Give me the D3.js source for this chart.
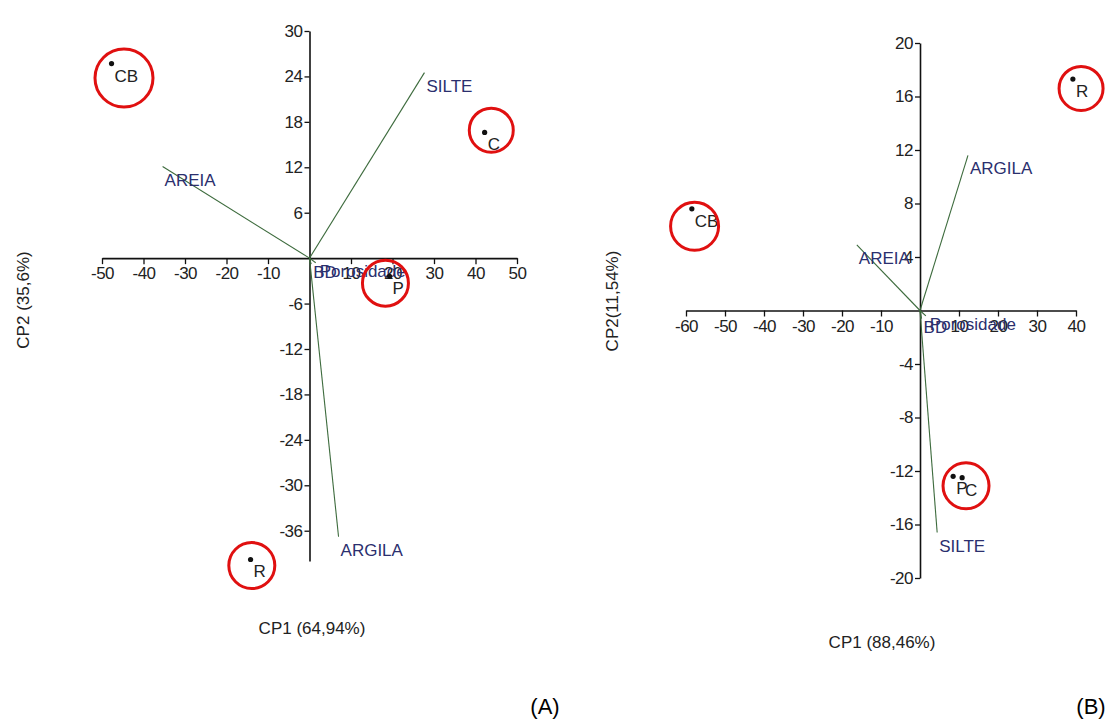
<!DOCTYPE html>
<html>
<head>
<meta charset="utf-8">
<script src="https://cdn.jsdelivr.net/npm/d3@7"></script>
<style>
    body { margin: 0; background: #fff; }
    svg { font-family: "Liberation Sans", Arial, sans-serif; }
</style>
</head>
<body>
<svg id="chart" width="1110" height="720"></svg>
<script>
// Panel A data
// ===================================
const xTicksA = [-50, -40, -30, -20, -10, 0, 10, 20, 30, 40, 50]
const yTicksA = [30, 24, 18, 12, 6, 0, -6, -12, -18, -24, -30, -36]
const pointsA = [
    { name: "CB", x: -47.7, y: 25.7 },
    { name: "C", x: 42.2, y: 16.6 },
    { name: "P", x: 19.3, y: -2.4 },
    { name: "R", x: -14.2, y: -39.8 },
]
const vectorsA = [
    { name: "SILTE", x: 27.7, y: 24.5 },
    { name: "AREIA", x: -35.4, y: 12.1 },
    { name: "ARGILA", x: 7.0, y: -36.8 },
    { name: "BD", x: 0.4, y: -0.8 },
    { name: "Porosidade", x: 1.5, y: -0.6 },
]
const circledA = [
    { x: -44.7, y: 23.8 },
    { x: 43.8, y: 16.9 },
    { x: 18.3, y: -3.3 },
    { x: -13.9, y: -40.6 },
]

// Panel B data
// ===================================
const xTicksB = [-60, -50, -40, -30, -20, -10, 0, 10, 20, 30, 40]
const yTicksB = [20, 16, 12, 8, 4, 0, -4, -8, -12, -16, -20]
const pointsB = [
    { name: "R", x: 39.2, y: 17.3 },
    { name: "CB", x: -58.5, y: 7.6 },
    { name: "P", x: 8.5, y: -12.4 },
    { name: "C", x: 10.8, y: -12.5 },
]
const vectorsB = [
    { name: "ARGILA", x: 12.3, y: 11.6 },
    { name: "AREIA", x: -16.2, y: 4.9 },
    { name: "SILTE", x: 4.4, y: -16.6 },
    { name: "BD", x: 0.4, y: -0.6 },
    { name: "Porosidade", x: 1.5, y: -0.4 },
]
const circledB = [
    { x: 41.3, y: 16.6 },
    { x: -57.8, y: 6.3 },
    { x: 11.8, y: -13.1 },
]

const panels = [
    {
        tag: "(A)", xTitle: "CP1 (64,94%)", yTitle: "CP2 (35,6%)",
        xDomain: [-50, 50], yDomain: [-40, 30],
        xRange: [102, 517], yRange: [561, 31],
        xTicks: xTicksA, yTicks: yTicksA,
        points: pointsA, vectors: vectorsA, circled: circledA,
        xTitlePos: [312, 634], yTitlePos: [23, 300], tagPos: [545, 714],
        circleR: [29, 22, 23, 23],
    },
    {
        tag: "(B)", xTitle: "CP1 (88,46%)", yTitle: "CP2(11,54%)",
        xDomain: [-60, 40], yDomain: [-20, 20],
        xRange: [686, 1076], yRange: [578, 43],
        xTicks: xTicksB, yTicks: yTicksB,
        points: pointsB, vectors: vectorsB, circled: circledB,
        xTitlePos: [882, 648], yTitlePos: [612, 301], tagPos: [1091, 714],
        circleR: [22, 24, 23],
    },
]

const svg = d3.select("#chart")

const drawPanel = (p) => {
    const x = d3.scaleLinear().domain(p.xDomain).range(p.xRange)
    const y = d3.scaleLinear().domain(p.yDomain).range(p.yRange)
    const g = svg.append("g")
    const noZero = d => d === 0 ? "" : d

    // Axis through origin
    // ===================================
    const xAxis = g.append("g")
        .attr("transform", `translate(0,${y(0)})`)
        .call(d3.axisBottom(x).tickValues(p.xTicks).tickSize(6).tickSizeOuter(0).tickPadding(3).tickFormat(noZero))
    const yAxis = g.append("g")
        .attr("transform", `translate(${x(0)},0)`)
        .call(d3.axisLeft(y).tickValues(p.yTicks).tickSize(5).tickSizeOuter(0).tickPadding(2).tickFormat(noZero))
    ;[xAxis, yAxis].forEach(a => {
        a.attr("font-size", 17).attr("font-family", null)
        a.select(".domain").attr("stroke", "#111").attr("stroke-width", 1.6)
        a.selectAll(".tick line").attr("stroke", "#111").attr("stroke-width", 1.3)
        a.selectAll(".tick text").attr("fill", "#222").attr("letter-spacing", "-0.5")
        a.selectAll(".tick").filter(d => d === 0).select("line").remove()
    })

    // Variable vectors
    // ===================================
    g.selectAll("line.vec")
        .data(p.vectors)
        .join("line")
        .attr("class", "vec")
        .attr("x1", x(0)).attr("y1", y(0))
        .attr("x2", d => x(d.x)).attr("y2", d => y(d.y))
        .attr("stroke", "#3d6b3d")
        .attr("stroke-width", 1.1)
    g.selectAll("text.vec")
        .data(p.vectors)
        .join("text")
        .attr("class", "vec")
        .attr("x", d => x(d.x) + (d.name === "Porosidade" ? 4 : 2))
        .attr("y", d => y(d.y) + (d.name === "BD" || d.name === "Porosidade" ? 14 : 19))
        .attr("font-size", 17)
        .attr("fill", "#2b2f6e")
        .text(d => d.name)

    // Scores
    // ===================================
    g.selectAll("circle.pt")
        .data(p.points)
        .join("circle")
        .attr("class", "pt")
        .attr("cx", d => x(d.x)).attr("cy", d => y(d.y))
        .attr("r", 2.6)
        .attr("fill", "#111")
    g.selectAll("text.pt")
        .data(p.points)
        .join("text")
        .attr("class", "pt")
        .attr("x", d => x(d.x) + 3)
        .attr("y", d => y(d.y) + 18)
        .attr("font-size", 17)
        .attr("fill", "#222")
        .text(d => d.name)

    // Red highlight circles
    // ===================================
    g.selectAll("circle.hl")
        .data(p.circled)
        .join("circle")
        .attr("class", "hl")
        .attr("cx", d => x(d.x)).attr("cy", d => y(d.y))
        .attr("r", (d, i) => p.circleR[i])
        .attr("fill", "none")
        .attr("stroke", "#e01010")
        .attr("stroke-width", 3)

    // Titles
    // ===================================
    g.append("text")
        .attr("x", p.xTitlePos[0]).attr("y", p.xTitlePos[1])
        .attr("text-anchor", "middle")
        .attr("font-size", 17)
        .attr("fill", "#222")
        .text(p.xTitle)
    g.append("text")
        .attr("transform", `translate(${p.yTitlePos[0]},${p.yTitlePos[1]})rotate(-90)`)
        .attr("text-anchor", "middle")
        .attr("dy", "0.35em")
        .attr("font-size", 17)
        .attr("fill", "#222")
        .text(p.yTitle)
    g.append("text")
        .attr("x", p.tagPos[0]).attr("y", p.tagPos[1])
        .attr("text-anchor", "middle")
        .attr("font-size", 22)
        .attr("fill", "#000")
        .text(p.tag)
}

panels.forEach(drawPanel)
</script>
</body>
</html>
